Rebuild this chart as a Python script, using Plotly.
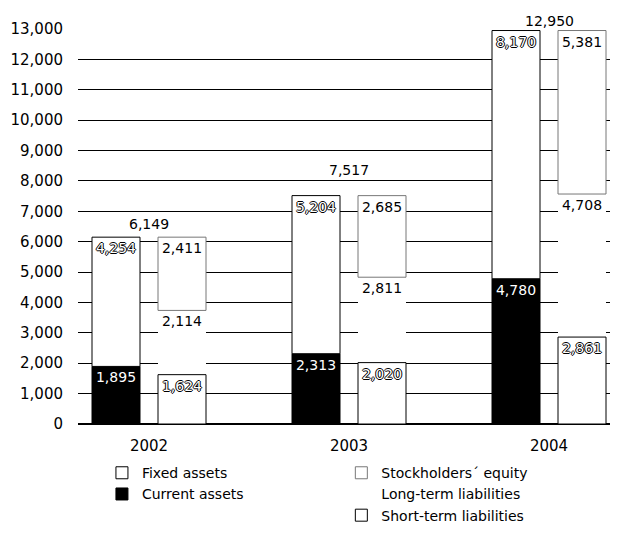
import plotly.graph_objects as go

years = ["2002", "2003", "2004"]
current_assets = [1895, 2313, 4780]
fixed_assets = [4254, 5204, 8170]
short_term_liabilities = [1624, 2020, 2861]
long_term_liabilities = [2114, 2811, 4708]
stockholders_equity = [2411, 2685, 5381]
totals = [6149, 7517, 12950]
y_tick_values = list(range(0, 13001, 1000))

FONT = "DejaVu Sans"
pos = list(range(len(years)))
x_assets = [i - 0.165 for i in pos]
x_liab = [i + 0.165 for i in pos]
BW = 0.24

# stacking bases computed from the data
base_fixed = current_assets
base_long = short_term_liabilities
base_equity = [s + l for s, l in zip(short_term_liabilities, long_term_liabilities)]


def fmt(v):
    return f"{v:,}"


outline = "1px 0 0 #000, -1px 0 0 #000, 0 1px 0 #000, 0 -1px 0 #000"
plain_font = dict(family=FONT, size=14, color="black")
white_font = dict(family=FONT, size=14, color="white")
outlined_font = dict(family=FONT, size=14, color="white", shadow=outline)

fig = go.Figure()

common = dict(width=BW, textposition="inside", insidetextanchor="end",
              textangle=0, constraintext="none", cliponaxis=False)

# long-term liabilities first (white fill hides gridlines, no outline)
fig.add_trace(go.Bar(
    name="Long-term liabilities", x=x_liab, y=long_term_liabilities, base=base_long,
    text=[fmt(v) for v in long_term_liabilities], textfont=plain_font,
    marker=dict(color="white", line=dict(color="white", width=0)),
    legend="legend2", legendrank=2, **common))
fig.add_trace(go.Bar(
    name="Current assets", x=x_assets, y=current_assets,
    text=[fmt(v) for v in current_assets], textfont=white_font,
    marker=dict(color="black", line=dict(color="black", width=1)),
    legend="legend", legendrank=2, **common))
fig.add_trace(go.Bar(
    name="Fixed assets", x=x_assets, y=fixed_assets, base=base_fixed,
    text=[fmt(v) for v in fixed_assets], textfont=outlined_font,
    marker=dict(color="white", line=dict(color="black", width=1)),
    legend="legend", legendrank=1, **common))
fig.add_trace(go.Bar(
    name="Short-term liabilities", x=x_liab, y=short_term_liabilities,
    text=[fmt(v) for v in short_term_liabilities], textfont=outlined_font,
    marker=dict(color="white", line=dict(color="black", width=1)),
    legend="legend2", legendrank=3, **common))
fig.add_trace(go.Bar(
    name="Stockholders´ equity", x=x_liab, y=stockholders_equity, base=base_equity,
    text=[fmt(v) for v in stockholders_equity], textfont=plain_font,
    marker=dict(color="white", line=dict(color="#777777", width=1)),
    legend="legend2", legendrank=1, **common))

total_label_lift = [3, 16, 0]
for i, t in enumerate(totals):
    fig.add_annotation(x=pos[i], y=t, text=fmt(t), showarrow=False,
                       yanchor="bottom", yshift=total_label_lift[i],
                       font=dict(family=FONT, size=14, color="black"))

fig.update_layout(
    width=622, height=537,
    margin=dict(l=78, r=12, t=29, b=113, autoexpand=False),
    paper_bgcolor="white", plot_bgcolor="white",
    barmode="overlay",
    font=dict(family=FONT, size=14, color="black"),
    uniformtext=dict(minsize=14, mode="show"),
    showlegend=True,
    legend=dict(x=0.045, y=-0.084, xanchor="left", yanchor="top",
                font=dict(family=FONT, size=14), bgcolor="rgba(0,0,0,0)",
                traceorder="normal", tracegroupgap=0),
    legend2=dict(x=0.495, y=-0.084, xanchor="left", yanchor="top",
                 font=dict(family=FONT, size=14), bgcolor="rgba(0,0,0,0)",
                 traceorder="normal", tracegroupgap=0),
    xaxis=dict(range=[-0.355, 2.305], tickvals=pos, ticktext=years,
               showgrid=False, zeroline=False, showline=False,
               ticks="", ticklabelstandoff=11, automargin=False,
               tickfont=dict(family=FONT, size=15)),
    yaxis=dict(range=[0, 13000], tickvals=y_tick_values,
               tickformat=",d", showgrid=True, gridcolor="black",
               gridwidth=1, zeroline=True, zerolinecolor="black",
               zerolinewidth=2, showline=False, ticks="",
               ticklabelstandoff=14, automargin=False,
               tickfont=dict(family=FONT, size=15)),
)

fig.write_html("out.html", config={"displayModeBar": False},
               post_script="document.body.style.margin='0px';")
